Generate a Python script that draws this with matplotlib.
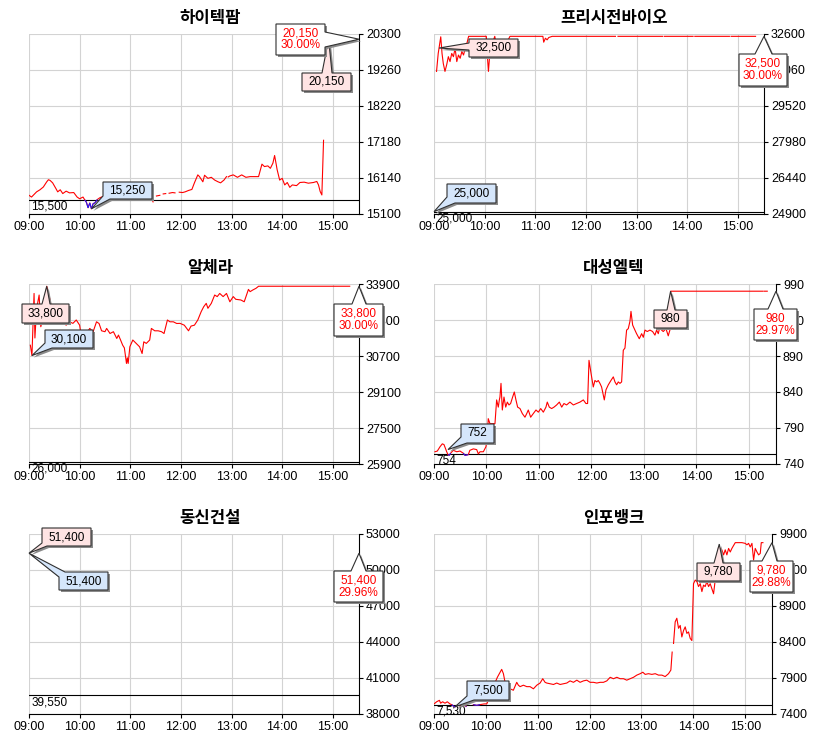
import matplotlib
matplotlib.use("Agg")
import matplotlib.pyplot as plt
import numpy as np
from matplotlib.collections import LineCollection
from matplotlib.patches import Polygon
from matplotlib.transforms import IdentityTransform

W, H = 833, 740
plt.rcParams["font.family"] = ["Liberation Sans", "Noto Sans CJK KR", "DejaVu Sans"]

nan = np.nan

# ---- 데이터 ----
titles = ["하이텍팜", "프리시전바이오", "알체라", "대성엘텍", "동신건설", "인포뱅크"]
prev_close = [15500, 25000, 26000, 754, 39550, 7530]
y_lo = [15100, 24900, 25900, 740, 38000, 7400]
y_hi = [20300, 32600, 33900, 990, 53000, 9900]

hour_ticks = [0, 60, 120, 180, 240, 300, 360]
hour_labels = ["09:00", "10:00", "11:00", "12:00", "13:00", "14:00", "15:00"]

# 시간: 09:00 부터 분
t_hitek = [0, 3, 7, 9, 13, 17, 21, 23, 25, 28, 32, 34, 37, 40, 44, 48, 53, 57, 60, 64, 66, 68, 70, 72, 74, 76,
           78, 81, 84, 86, nan, 90, 93, nan, 98, 101, nan, 106, 109, nan, 115, 118, nan, 124, 127, nan, 133,
           136, nan, 141, 143, nan, 145, 147, nan, 151, 155, nan, 159, 162, nan, 166, 170, 173, nan, 178, 182,
           185, 189, 193, 196, 200, 202, 206, 208, 212, 216, 220, 224, 227, 231, 234, nan, 236, 238, 242, 247,
           252, 257, 262, 266, 272, 276, 279, 283, 286, 289, 291, 293, 294, 297, 300, 303, 306, 309, 312, 317,
           321, 326, 331, 337, 341, 343, 345, 347, 349, nan, 353, 354, 355]
p_hitek = [15640, 15590, 15690, 15740, 15800, 15880, 16030, 16090, 16070, 16000, 15830, 15740, 15800, 15690,
           15760, 15710, 15720, 15590, 15540, 15590, 15510, 15440, 15280, 15420, 15250, 15400, 15420, 15520,
           15570, 15590, nan, 15560, 15580, nan, 15590, 15610, nan, 15600, 15620, nan, 15630, 15640, nan, 15650,
           15660, nan, 15680, 15670, nan, 15660, 15650, nan, 15580, 15450, nan, 15620, 15640, nan, 15680,
           15690, nan, 15700, 15720, 15710, nan, 15730, 15720, 15740, 15780, 15810, 16000, 16230, 16180,
           16030, 16220, 16130, 16160, 16080, 16030, 16000, 16080, 16180, nan, 16170, 16200, 16230, 16160,
           16230, 16160, 16180, 16180, 16180, 16540, 16470, 16490, 16420, 16570, 16790, 16520, 16380, 16080,
           16130, 15940, 16010, 15870, 15940, 15920, 16010, 16020, 15990, 16010, 16040, 15940, 15750, 15650,
           17230, nan, 19690, 19930, 20150]

t_precision = [3, 5, 8, 9.5, 11, 13, 15, 17, 19, 21, 23, 25, 27, 29, 31, 33, 35, 37, 39, 41, 50, 62, 63, 64.5,
               66, 68, 70, 72, 74, 76, 78, 80, 85, 90, 100, 110, 120, 129, 130, 132, 134, 136, 140, 180, 215,
               nan, 218, 250, 271, nan, 273, 307, nan, 309, 350, nan, 352, 381]
p_precision = [31000, 31770, 32480, 31770, 31340, 31000, 31280, 31630, 31420, 31770, 31630, 31990, 31420,
               31700, 31560, 31850, 31700, 31990, 32200, 32500, 32500, 32500, 31770, 31000, 31700, 31990,
               32280, 32500, 32100, 31560, 31700, 31850, 32140, 32500, 32500, 32500, 32500, 32500, 32250,
               32420, 32350, 32450, 32500, 32500, 32500, nan, 32500, 32500, 32500, nan, 32500, 32500, nan,
               32500, 32500, nan, 32500, 32500]

t_alchera = [1.6, 3.5, 6, 7, 9, 12, 14, 17, 21, 25, 28, 34, 40, 44, 48, 52, 56, 60, 64, 68, 72, 76, 80, 83, 86,
             90, 92, 96, 100, 104, 106, 108.5, 111, 113, 115.5, 116.5, 117.5, 119.5, 123, 127, 131, 134, 136,
             139, 143, 145, 149, 153, 157, 160, 164, 167, 171, 175, 179, 184, 189, 192, 196, 200, 204, 207,
             210, 212, 216, 220, 223, 226, 230, 234, 238, 242, 245, 251, 255, 260, 262, 265, 269, 272, 380]
p_alchera = [31180, 30720, 33480, 31500, 32800, 33410, 32000, 32500, 33800, 33190, 32440, 32150, 32220, 32070,
             32220, 32150, 32300, 32070, 31035, 31700, 31925, 31780, 32220, 32145, 31820, 31780, 31925, 31700,
             31780, 31480, 31630, 31410, 31180, 31060, 30370, 30620, 30370, 31110, 31410, 31260, 31110, 30810,
             31330, 31260, 31410, 31925, 31820, 31820, 31780, 31700, 32300, 32220, 32220, 32145, 32150, 32070,
             31820, 32030, 32070, 32300, 32670, 32890, 33040, 32820, 33040, 33410, 33340, 33480, 33340, 33480,
             33110, 33340, 33220, 33190, 33110, 33660, 33560, 33630, 33710, 33800, 33800]

t_daesung = [1.1, 3.8, 6.9, 9.5, 11.4, 13.3, 14.5, 16, 17.5, 19, 22, 26, 29.7, 33.5, 35.4, 39.2, 41, 45, 48.8,
             50.7, 52.6, 56.4, 59.4, 61, 62, 64, 67, 69.7, 71.6, 73.5, 74.7, 75.4, 76.6, 78.1, 80, 82, 83.8,
             85.7, 87.6, 89.9, 91.8, 93.7, 95.6, 98.3, 101, 104, 106, 107.8, 110.5, 113.5, 116.6, 119.3, 122,
             125, 128, 129.5, 131.8, 134.5, 137.2, 140.2, 143.3, 146, 148.6, 151.6, 155.4, 159.3, 163, 166.9,
             170.7, 173.7, 175.6, 177.2, 180.2, 182.1, 184, 186, 187.8, 189.7, 191.6, 194.7, 196.6, 199.3,
             202.3, 205, 206.9, 208.8, 210.7, 212.6, 214.5, 216.4, 218.3, 220.2, 222.1, 224, 225.2, 227.1,
             229.7, 231.6, 234.7, 237.4, 239.3, 241.2, 243.8, 246.9, 249.9, 252.6, 254.5, 256.4, 258.3, 260.2,
             262.1, 265.2, 267.8, 269.7, 270.5, 375.7, nan, 377.2, 381]
p_daesung = [757, 758, 764, 768, 767, 761, 757, 753, 752, 755, 759, 757, 758, 755, 752, 753, 759, 761, 760, 754,
             757, 757, 764, 778, 803, 796, 796, 796, 829, 819, 829, 833, 852, 815, 833, 819, 826, 822, 824, 833,
             840, 829, 819, 817, 810, 805, 810, 815, 805, 810, 815, 812, 817, 812, 819, 826, 819, 817, 819, 822,
             826, 819, 824, 822, 826, 822, 824, 826, 829, 824, 824, 884, 861, 847, 856, 854, 856, 852, 847, 829,
             843, 850, 856, 861, 854, 850, 854, 852, 854, 898, 901, 926, 928, 938, 952, 933, 926, 921, 914, 921,
             916, 926, 924, 926, 924, 919, 926, 921, 931, 926, 924, 928, 918, 926, 980, 980, nan, 980, 980]

t_dongshin = [0]
p_dongshin = [51400]

t_infobank = [0, 3.1, 6.2, 7.7, 10, 12.7, 15.4, 18.5, 20.5, 22.4, 24.3, 26, nan, 30, 31, nan, 36, 37.5, nan,
              45.5, 49.4, 53.3, 57.9, 61, 62.9, 64.8, 68.7, 73.3, 75.6, 78.3, 80.3, 82.2, 84.1, 88, 91.8, 95.7,
              97.6, 99.6, 103.4, 107.3, 111.1, 115, 118.9, 122.7, 125.8, 128.5, 130.4, 134.3, 138.2, 142, 145.9,
              149.7, 153.6, 157.4, 161.3, 165.2, 169, 172.9, 176.7, 180.6, 184.5, 188.3, 192.2, 196, 199.9,
              203.8, 207.6, 211.5, 215.3, 219.2, 223, 226.9, 230.8, 234.6, 238.5, 241.6, 244.3, 248.1, 252,
              255.9, 259.7, 263.6, 267.4, 271.3, 274, 275.5, nan, 277.1, 279, 280.9, 282.9, 284.8, 286.7, 288.7,
              290.6, 292.5, 294.4, 296.4, 298.3, 300.2, 302.2, 304.1, 306, 308, 309.9, 311.8, 313.7, 315.7,
              317.6, 319.5, 321.5, 323.4, 325.3, 327.2, 329.2, 331.1, 333, 335, 336.9, 338.8, 340.8, 342.7,
              344.6, 348.5, 352.3, 356.2, 360, 362, 363.9, 365.8, 367.8, 369.7, 371.6, 373.6, 375.5, 377.4,
              378.6, 380.5]
p_infobank = [7540, 7570, 7590, 7550, 7570, 7550, 7570, 7540, 7530, 7510, 7500, 7510, nan, 7510, 7510, nan,
              7510, 7510, nan, 7530, 7520, 7530, 7540, 7540, 7590, 7640, 7780, 7910, 7960, 8020, 7960, 7840,
              7780, 7750, 7730, 7840, 7800, 7780, 7800, 7780, 7780, 7750, 7800, 7830, 7890, 7840, 7830, 7820,
              7810, 7830, 7810, 7820, 7830, 7860, 7840, 7870, 7840, 7860, 7870, 7840, 7840, 7830, 7840, 7840,
              7860, 7910, 7890, 7910, 7890, 7890, 7870, 7890, 7910, 7940, 7960, 7980, 7950, 7960, 7950, 7960,
              7940, 7940, 7920, 7960, 8010, 8260, nan, 8380, 8680, 8730, 8590, 8630, 8470, 8560, 8610, 8520,
              8540, 8450, 8420, 9210, 9260, 9240, 9170, 9210, 9100, 9190, 9170, 9240, 9170, 9210, 9140, 9070,
              9260, 9490, 9720, 9700, 9680, 9610, 9680, 9610, 9700, 9650, 9700, 9780, 9780, 9780, 9770, 9750,
              9770, 9720, 9770, 9540, 9700, 9650, 9610, 9630, 9780, 9780]

series_t = [t_hitek, t_precision, t_alchera, t_daesung, t_dongshin, t_infobank]
series_p = [p_hitek, p_precision, p_alchera, p_daesung, p_dongshin, p_infobank]

hi_label = ["20,150", "32,500", "33,800", "980", "51,400", "9,780"]
hi_at_t = [355, 6, 21, 270.5, 0, 330]
hi_at_p = [20150, 32000, 33800, 980, 51400, 9760]
lo_label = ["15,250", "25,000", "30,100", "752", "51,400", "7,500"]
lo_at_t = [74, 0, 3.5, 16, 0, 24.3]
lo_at_p = [15250, 25000, 30720, 760, 51400, 7500]
last_price = [20150, 32500, 33800, 980, 51400, 9780]
last_label = ["20,150\n30.00%", "32,500\n30.00%", "33,800\n30.00%", "980\n29.97%", "51,400\n29.96%",
              "9,780\n29.88%"]

# ---- 배치 (그림 픽셀, 위에서부터) ----
axes_px = [(29, 34, 359, 214), (434, 34, 764, 214), (29, 284, 359, 464),
           (434, 284, 776, 464), (29, 534, 359, 714), (434, 534, 772, 714)]
title_px = [(210, 18), (614, 18), (210, 268), (614, 268), (210, 518), (614, 518)]
hi_box = [(302, 73, 351, 91), (469, 39, 518, 57), (22, 304, 69, 323),
          (654, 310, 687, 328), (42, 528, 91, 546), (697, 563, 740, 581)]
hi_base = [[(322, 73), (332, 73)], [(469, 43), (469, 50)], [(42, 304), (50, 304)],
           [(667, 310), (675, 310)], [(42, 543), (47, 546)], [(714, 563), (723, 563)]]
lo_box = [(103, 182, 152, 199), (447, 184, 496, 203), (45, 330, 93, 348),
          (461, 424, 494, 443), (59, 572, 108, 590), (467, 681, 509, 700)]
lo_base = [[(103, 196), (110, 199)], [(447, 197), (455, 203)], [(45, 343), (52, 348)],
           [(461, 437), (467, 443)], [(59, 577), (65, 572)], [(467, 696), (474, 700)]]
last_box = [(276, 24, 325, 55), (739, 54, 787, 86), (334, 304, 383, 336),
            (754, 309, 797, 340), (334, 571, 383, 602), (750, 561, 793, 592)]
last_base = [[(325, 32), (325, 47)], [(755, 54), (772, 54)], [(352, 304), (366, 304)],
             [(768, 309), (783, 309)], [(351, 571), (366, 571)], [(762, 561), (777, 561)]]

RED = "#ff0000"
BLUE = "#1a1aff"
PINK = "#ffe4e4"
LIGHTBLUE = "#d5e6fb"

fig = plt.figure(figsize=(W / 100, H / 100), dpi=100)


def callout(ax, anchor, box, base, text, fc, tc="black", z=5):
    apex = ax.transData.transform(anchor)
    l, t, r, b = box
    L, R, B, T = l, r, H - b, H - t
    w, h = R - L, T - B
    P = 2 * (w + h)

    def s_of(pt):
        x, y = pt[0], H - pt[1]
        d = {"b": abs(y - B), "r": abs(x - R), "t": abs(y - T), "l": abs(x - L)}
        e = min(d, key=d.get)
        if e == "b":
            return np.clip(x - L, 0, w)
        if e == "r":
            return w + np.clip(y - B, 0, h)
        if e == "t":
            return w + h + np.clip(R - x, 0, w)
        return 2 * w + h + np.clip(T - y, 0, h)

    def pt_of(s):
        s = s % P
        if s <= w:
            return (L + s, B)
        if s <= w + h:
            return (R, B + s - w)
        if s <= 2 * w + h:
            return (R - (s - w - h), T)
        return (L, T - (s - 2 * w - h))

    s1, s2 = sorted([s_of(base[0]), s_of(base[1])])
    if s2 - s1 > P / 2:
        s1, s2 = s2, s1 + P
    corners = [0, w, w + h, 2 * w + h]
    cs = sorted(c + k * P for c in corners for k in (0, 1, 2) if s2 < c + k * P < s1 + P)
    verts = [pt_of(s2)] + [pt_of(c) for c in cs] + [pt_of(s1), tuple(apex)]
    verts = np.array(verts)
    shadow = Polygon(verts + [2, -2], closed=True, transform=IdentityTransform(),
                     fc="#8a8a8a", ec="none", zorder=z - 0.1)
    poly = Polygon(verts, closed=True, transform=IdentityTransform(),
                   fc=fc, ec="#303030", lw=0.8, zorder=z)
    fig.add_artist(shadow)
    fig.add_artist(poly)
    fig.text((L + R) / 2, (B + T) / 2, text, transform=IdentityTransform(), ha="center",
             va="center", fontsize=8.5, color=tc, linespacing=1.0, zorder=z + 0.1)


for i in range(6):
    l, t, r, b = axes_px[i]
    ax = fig.add_axes([l / W, 1 - b / H, (r - l) / W, (b - t) / H])
    ax.set_xlim(0, 391)
    ax.set_ylim(y_lo[i], y_hi[i])
    yt = np.linspace(y_lo[i], y_hi[i], 6)
    ax.set_yticks(yt, labels=[f"{int(round(v))}" for v in yt])
    ax.set_xticks(hour_ticks, labels=hour_labels)
    ax.yaxis.tick_right()
    ax.tick_params(direction="out", length=3, width=0.8, colors="black", labelsize=9, pad=2)
    for side in ["left", "top"]:
        ax.spines[side].set_visible(False)
    for side in ["right", "bottom"]:
        ax.spines[side].set_color("black")
        ax.spines[side].set_linewidth(0.8)
    ax.grid(True, color="#d3d3d3", lw=0.8)
    ax.set_axisbelow(True)

    # 전일 종가
    ax.axhline(prev_close[i], color="black", lw=0.8, zorder=2)
    ax.annotate(f"{prev_close[i]:,}", xy=(0, prev_close[i]), xycoords=("axes fraction", "data"),
                xytext=(1.5, -0.5), textcoords="offset points", ha="left", va="top",
                fontsize=8.5, annotation_clip=False)

    # 가격선
    tt = np.asarray(series_t[i], float)
    pp = np.asarray(series_p[i], float)
    ax.plot(tt, pp, color=RED, lw=0.8, zorder=3)
    segs = []
    for k in range(len(tt) - 1):
        if np.isnan(pp[k]) or np.isnan(pp[k + 1]):
            continue
        if (pp[k] + pp[k + 1]) / 2 < prev_close[i]:
            segs.append([(tt[k], pp[k]), (tt[k + 1], pp[k + 1])])
    if segs:
        ax.add_collection(LineCollection(segs, colors=BLUE, linewidths=0.8, zorder=4))

    fig.text(title_px[i][0] / W, 1 - title_px[i][1] / H, titles[i], ha="center", va="center",
             fontsize=12, fontweight="bold", family=["Noto Sans CJK KR", "DejaVu Sans"])

    callout(ax, (hi_at_t[i], hi_at_p[i]), hi_box[i], hi_base[i], hi_label[i], PINK, z=5)
    callout(ax, (lo_at_t[i], lo_at_p[i]), lo_box[i], lo_base[i], lo_label[i], LIGHTBLUE, z=5)
    callout(ax, (391, last_price[i]), last_box[i], last_base[i], last_label[i], "white", tc=RED, z=7)

fig.savefig("out.png", dpi=100)
